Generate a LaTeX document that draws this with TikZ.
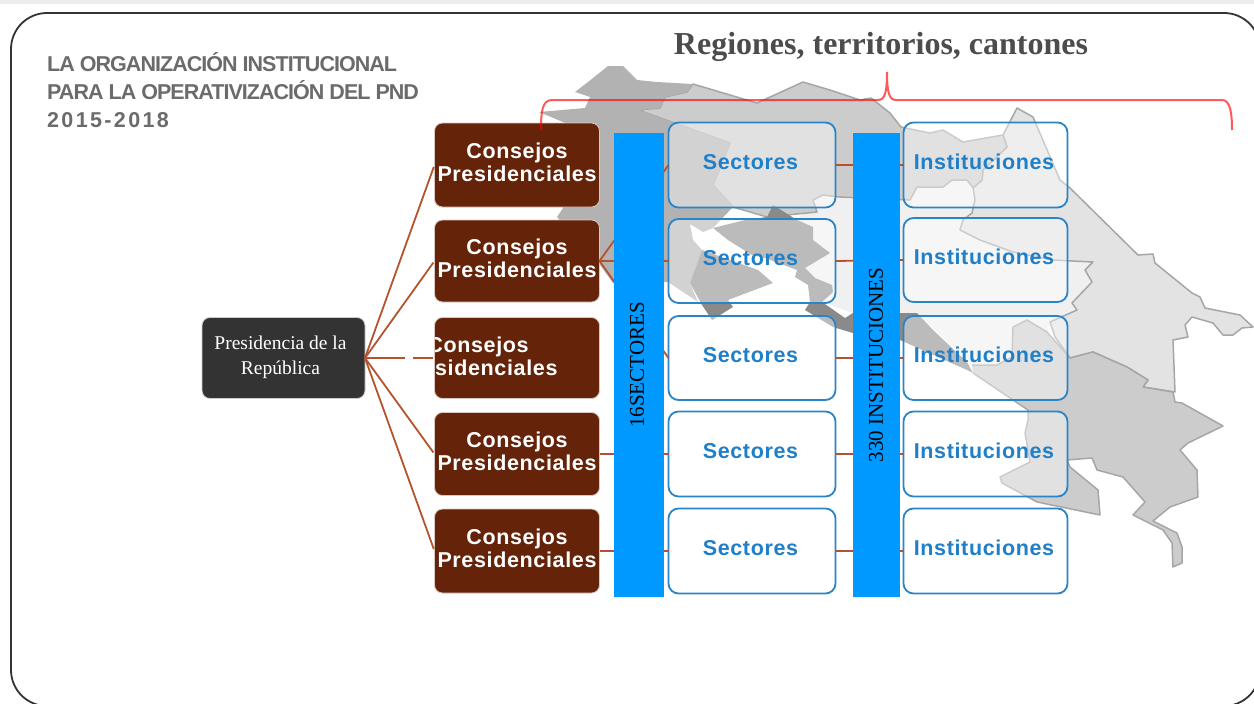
\documentclass[tikz,border=0pt]{standalone}
\usepackage{fontspec}
\newfontfamily\boxfont[LetterSpace=3]{Liberation Sans}
\newfontfamily\titlefont[LetterSpace=-4.5]{Liberation Sans}
\newfontfamily\yearfont[LetterSpace=11]{Liberation Sans}
\newfontfamily\serieffont{Liberation Serif}
\definecolor{consejobrown}{HTML}{652409}
\definecolor{hubgray}{HTML}{333333}
\definecolor{barblue}{HTML}{0099FF}
\definecolor{boxblue}{HTML}{2A85C8}
\definecolor{textblue}{HTML}{1F7FC8}
\definecolor{linkbrown}{HTML}{B5532F}
\definecolor{mapedge}{HTML}{A6A6A6}
\tikzset{
    consejo/.style={draw=white!75!consejobrown, line width=0.8pt, fill=consejobrown, rounded corners=8pt, outer sep=0pt,
        minimum width=165pt, text=white, align=center, inner sep=0pt, text depth=5.5pt,
        font=\boxfont\bfseries\fontsize{21.5}{23.7}\selectfont},
    hubnode/.style={draw=white!75!hubgray, line width=0.8pt, fill=hubgray, rounded corners=8pt, outer sep=0pt,
        minimum width=163pt, minimum height=81pt, text=white, align=center, inner sep=0pt, text depth=5.5pt,
        font=\serieffont\fontsize{19.5}{25}\selectfont},
    bluebox/.style={draw=boxblue, line width=1.8pt, fill=white, fill opacity=0.42, text opacity=1, rounded corners=10pt,
        outer sep=0pt, minimum height=84pt, text=textblue, text depth=6pt, inner sep=0pt,
        execute at end node={\hspace*{3pt}},
        font=\boxfont\bfseries\fontsize{21.5}{23}\selectfont},
    sectorbox/.style={bluebox, minimum width=167pt},
    instbox/.style={bluebox, minimum width=164pt},
    bluebar/.style={fill=barblue, outer sep=0pt, inner sep=0pt, minimum height=464pt},
    bartext/.style={rotate=90, text=black, font=\serieffont\fontsize{21}{23}\selectfont},
    link/.style={draw=linkbrown, line width=1.8pt},
    region/.style={draw=mapedge, line width=1.5pt, line join=round},
}
\begin{document}
\begin{tikzpicture}[x=1pt, y=-1pt]
    \useasboundingbox (0, 0) rectangle (1254, 704);
    \clip (0, 0) rectangle (1254, 704);
    \fill[gray!15] (0, 0) rectangle (1254, 4);
    \draw[draw=hubgray, line width=1.8pt, rounded corners=36pt] (11, 13) rectangle (1260, 706);

    % map of the country, one region after the other
    \fill[black!6] (813, 200) -- (823, 195) -- (840, 197) -- (910, 200) -- (917, 187) -- (943, 187) -- (952, 180) -- (967, 180) -- (975, 200) -- (972, 213) -- (963, 220) -- (960, 230) -- (980, 240) -- (1013, 252) -- (1053, 260) -- (1093, 262) -- (1085, 270) -- (1092, 282) -- (1072, 303) -- (1077, 310) -- (1050, 322) -- (1047, 332) -- (1027, 320) -- (1013, 327) -- (1012, 357) -- (997, 365) -- (972, 365) -- (917, 313) -- (853, 313) -- (822, 302) -- (815, 278) -- (805, 268) -- (813, 240) -- (797, 220) -- cycle;
    \draw[region, fill=black!11] (1003, 135) -- (1017, 108) -- (1033, 117) -- (1060, 180) -- (1070, 188) -- (1138, 255) -- (1153, 254) -- (1155, 263) -- (1192, 293) -- (1200, 297) -- (1205, 308) -- (1240, 315) -- (1253, 327) -- (1242, 328) -- (1233, 335) -- (1223, 335) -- (1213, 323) -- (1192, 317) -- (1185, 325) -- (1188, 337) -- (1173, 340) -- (1175, 392) -- (1143, 387) -- (1148, 380) -- (1127, 367) -- (1093, 352) -- (1070, 358) -- (1055, 337) -- (1050, 322) -- (1077, 310) -- (1072, 303) -- (1092, 282) -- (1085, 270) -- (1093, 262) -- (1053, 260) -- (1013, 252) -- (980, 240) -- (960, 230) -- (963, 220) -- (972, 213) -- (975, 200) -- (973, 188) -- (982, 180) -- (983, 170) -- (1007, 147) -- cycle;
    \draw[region, fill=black!20] (693, 84) -- (757, 103) -- (803, 82) -- (830, 90) -- (860, 100) -- (871, 98) -- (890, 113) -- (901, 127) -- (930, 133) -- (943, 130) -- (963, 142) -- (1003, 135) -- (1007, 147) -- (983, 170) -- (982, 180) -- (973, 188) -- (967, 180) -- (952, 180) -- (943, 187) -- (917, 187) -- (910, 200) -- (840, 197) -- (823, 195) -- (813, 200) -- (817, 212) -- (767, 217) -- (733, 207) -- (713, 185) -- (730, 143) -- (638, 110) -- (660, 108) -- (665, 97) -- (687, 92) -- cycle;
    \fill[black!30] (575, 92) -- (588, 82) -- (608, 66) -- (623, 66) -- (637, 80) -- (657, 82) -- (693, 84) -- (687, 92) -- (665, 97) -- (660, 108) -- (638, 110) -- (730, 143) -- (713, 185) -- (733, 207) -- (713, 228) -- (703, 232) -- (690, 224) -- (693, 240) -- (702, 250) -- (690, 283) -- (698, 302) -- (668, 282) -- (613, 283) -- (600, 265) -- (557, 217) -- (563, 208) -- (570, 125) -- (539, 112) -- (585, 108) -- (590, 97) -- cycle;
    \fill[black!46] (702, 250) -- (758, 270) -- (773, 283) -- (728, 300) -- (733, 307) -- (712, 320) -- (702, 305) -- (690, 283) -- cycle;
    \fill[black!46] (773, 205) -- (797, 220) -- (813, 227) -- (813, 240) -- (830, 253) -- (805, 268) -- (815, 278) -- (832, 285) -- (833, 292) -- (822, 302) -- (845, 318) -- (853, 313) -- (917, 313) -- (933, 330) -- (967, 362) -- (973, 373) -- (967, 370) -- (900, 340) -- (853, 333) -- (833, 327) -- (805, 310) -- (810, 302) -- (808, 285) -- (795, 277) -- (797, 270) -- (765, 258) -- (752, 255) -- (728, 240) -- (713, 228) -- (745, 220) -- (767, 217) -- cycle;
    \fill[black!20] (972, 365) -- (997, 365) -- (1012, 357) -- (1013, 327) -- (1027, 320) -- (1047, 332) -- (1070, 358) -- (1093, 352) -- (1127, 367) -- (1148, 380) -- (1143, 387) -- (1173, 392) -- (1175, 402) -- (1182, 403) -- (1223, 426) -- (1188, 443) -- (1180, 450) -- (1197, 470) -- (1198, 497) -- (1170, 507) -- (1153, 521) -- (1177, 533) -- (1182, 547) -- (1182, 563) -- (1173, 567) -- (1172, 543) -- (1163, 530) -- (1133, 515) -- (1145, 502) -- (1123, 477) -- (1097, 470) -- (1092, 458) -- (1067, 460) -- (1070, 467) -- (1098, 490) -- (1100, 515) -- (1037, 502) -- (1002, 483) -- (1000, 477) -- (1030, 462) -- (1025, 433) -- (1028, 420) -- (1028, 410) -- (1013, 400) -- (973, 373) -- cycle;
    \draw[mapedge, line width=1.5pt, line join=round] (972, 365) -- (997, 365) -- (1012, 357) -- (1013, 327) -- (1027, 320) -- (1047, 332) -- (1070, 358) -- (1093, 352) -- (1127, 367) -- (1148, 380) -- (1143, 387) -- (1173, 392) -- (1175, 402) -- (1182, 403) -- (1223, 426) -- (1188, 443) -- (1180, 450) -- (1197, 470) -- (1198, 497) -- (1170, 507) -- (1153, 521) -- (1177, 533) -- (1182, 547) -- (1182, 563) -- (1173, 567) -- (1172, 543) -- (1163, 530) -- (1133, 515) -- (1145, 502) -- (1123, 477) -- (1097, 470) -- (1092, 458) -- (1067, 460) -- (1070, 467) -- (1098, 490) -- (1100, 515) -- (1037, 502) -- (1002, 483) -- (1000, 477) -- (1030, 462) -- (1025, 433) -- (1028, 420) -- (1028, 410) -- (1013, 400) -- (973, 373);

    \node[anchor=base west, text=black!58, font=\titlefont\bfseries\fontsize{21.5}{28}\selectfont, align=left, inner sep=0pt] (title) at (47, 127) {LA ORGANIZACIÓN INSTITUCIONAL\\PARA LA OPERATIVIZACIÓN DEL PND\\{\yearfont\bfseries 2015-2018}};
    \node[anchor=base, text=black!70, font=\serieffont\bfseries\fontsize{32}{34}\selectfont, inner sep=0pt] (regiones) at (881, 54) {Regiones, territorios, cantones};

    \node[hubnode] (hub) at (283.5, 358) {Presidencia de la\hspace*{6pt}\\República\hspace*{6pt}};

    \node[consejo, minimum height=84pt] (c1) at (517, 165) {Consejos\\Presidenciales};
    \node[consejo, minimum height=82pt] (c2) at (517, 261) {Consejos\\Presidenciales};
    \node[consejo, minimum height=81pt, path picture={\node[text=white, align=center, text depth=5.5pt, font=\boxfont\bfseries\fontsize{21.5}{23.7}\selectfont] (c3text) at ([xshift=-39pt, yshift=-1pt]path picture bounding box.center) {Consejos\\Presidenciales};}] (c3) at (517, 358) {};
    \node[consejo, minimum height=83pt] (c4) at (517, 454) {Consejos\\Presidenciales};
    \node[consejo, minimum height=84pt] (c5) at (517, 551) {Consejos\\Presidenciales};

    \node[sectorbox, minimum height=85pt] (s1) at (752, 165) {Sectores};
    \node[sectorbox] (s2) at (752, 261) {Sectores};
    \node[sectorbox] (s3) at (752, 358) {Sectores};
    \node[sectorbox, minimum height=85pt] (s4) at (752, 454) {Sectores};
    \node[sectorbox, minimum height=85pt] (s5) at (752, 551) {Sectores};

    \node[instbox, minimum height=85pt] (i1) at (985.5, 165) {Instituciones};
    \node[instbox] (i2) at (985.5, 260) {Instituciones};
    \node[instbox] (i3) at (985.5, 358) {Instituciones};
    \node[instbox, minimum height=85pt] (i4) at (985.5, 454) {Instituciones};
    \node[instbox, minimum height=85pt] (i5) at (985.5, 551) {Instituciones};

    \draw[link, shorten >=2pt] (hub.east) -- (c1.west);
    \draw[link, shorten >=2pt] (hub.east) -- (c2.west);
    \draw[link, shorten >=2pt, dash pattern=on 40pt off 8pt on 40pt] (hub.east) -- (c3.west);
    \draw[link, shorten >=2pt] (hub.east) -- (c4.west);
    \draw[link, shorten >=2pt] (hub.east) -- (c5.west);

    \draw[link] (c2.east) -- (s1.west);
    \draw[link] (c2.east) -- (s2.west);
    \draw[link] (c2.east) -- (s3.west);
    \draw[link] (c4.east) -- (s4.west);
    \draw[link] (c5.east) -- (s5.west);

    \draw[link] (s1.east) -- (i1.west);
    \draw[link] (s2.east) -- (i2.west);
    \draw[link] (s3.east) -- (i3.west);
    \draw[link] (s4.east) -- (i4.west);
    \draw[link] (s5.east) -- (i5.west);

    \node[bluebar, minimum width=50pt] (bar1) at (638.5, 365) {};
    \node[bluebar, minimum width=47pt] (bar2) at (876, 365) {};
    \node[bartext] (bar1text) at (637, 365) {16SECTORES};
    \node[bartext] (bar2text) at (876, 365) {330 INSTITUCIONES};

    \coordinate (braceleft) at (541, 130);
    \coordinate (braceright) at (1232, 130);
    \coordinate (bracetip) at (887, 72);
    \draw[red, opacity=0.65, line width=2pt] (braceleft) .. controls (541, 112) and (542, 100) .. (552, 100) -- (878, 100) .. controls (885, 100) and (887, 92) .. (bracetip) .. controls (887, 92) and (889, 100) .. (896, 100) -- (1222, 100) .. controls (1230, 100) and (1232, 112) .. (braceright);
\end{tikzpicture}
\end{document}
